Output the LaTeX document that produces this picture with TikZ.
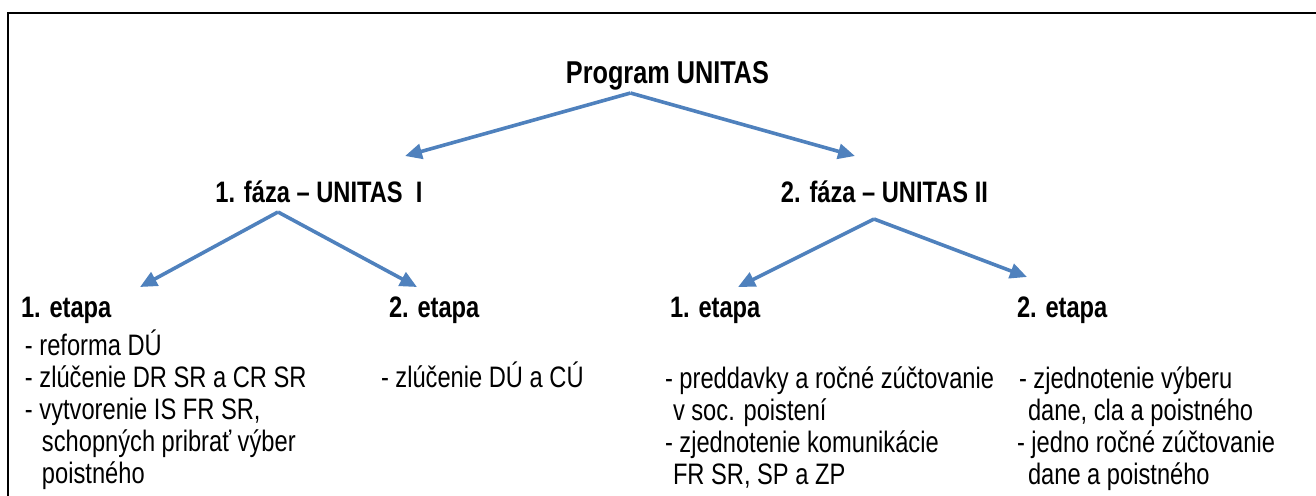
\documentclass[tikz,border=0pt]{standalone}
\usepackage{fontspec}
\setmainfont[FakeStretch=0.8]{Liberation Sans}
\usetikzlibrary{arrows.meta,calc}
\definecolor{arrblue}{RGB}{79,129,189}

\begin{document}
\begin{tikzpicture}
			[x=0.5pt,y=-0.5pt,
			every node/.style={inner sep=0pt,outer sep=0pt},
			head/.style={font=\bfseries\fontsize{14.8}{16}\selectfont,anchor=base},
			etapa/.style={font=\bfseries\fontsize{14.8}{16}\selectfont,anchor=base west},
			body/.style={font=\fontsize{14.8}{16}\selectfont,anchor=base west,align=left},
			arr/.style={draw=arrblue,line width=1.8pt,-{Triangle[length=8.5pt,width=7.5pt]}}]
			\useasboundingbox (0,0) rectangle (1316,495);
			\draw[line width=1.25pt] (8,500) -- (8,13) -- (1320,13);
			\node[head,font=\bfseries\fontsize{15.8}{17}\selectfont] (prog) at (667.5,83) {Program UNITAS};
			\node[head] (faza1) at (319,202) {1. fáza – UNITAS\ \ I};
			\node[head] (faza2) at (884.5,202) {2. fáza – UNITAS II};
			\node[etapa] (e11) at (21,317) {1. etapa};
			\node[etapa] (e12) at (389,317) {2. etapa};
			\node[etapa] (e21) at (670,317) {1. etapa};
			\node[etapa] (e22) at (1017,317) {2. etapa};
			\node[body] (t11) at (25,483) {- reforma DÚ\\- zlúčenie DR SR a CR SR\\- vytvorenie IS FR SR,\\\hspace*{8.5pt}schopných pribrať výber\\\hspace*{8.5pt}poistného};
			\node[body] (t12) at (381,387) {- zlúčenie DÚ a CÚ};
			\node[body] (t21) at (665,484) {- preddavky a ročné zúčtovanie\\\hspace*{4pt}v soc. poistení\\- zjednotenie komunikácie\\\hspace*{4pt}FR SR, SP a ZP};
			\node[body] (t22) at (1017,484) {\hspace*{1pt}- zjednotenie výberu\\\hspace*{5.5pt}dane, cla a poistného\\- jedno ročné zúčtovanie\\\hspace*{5.5pt}dane a poistného};
			\draw[arr] ($(prog.base)+(-37,10)$) -- ($(faza1.base)+(86,-46)$);
			\draw[arr] ($(prog.base)+(-37,10)$) -- ($(faza2.base)+(-29.5,-46)$);
			\draw[arr] ($(faza1.base)+(-41,10)$) -- ($(e11.base west)+(119,-30)$);
			\draw[arr] ($(faza1.base)+(-41,10)$) -- ($(e12.base west)+(28,-30)$);
			\draw[arr] ($(faza2.base)+(-10.5,17)$) -- ($(e21.base west)+(68,-30)$);
			\draw[arr] ($(faza2.base)+(-10.5,17)$) -- ($(e22.base west)+(10,-40)$);
		\end{tikzpicture}
\end{document}
